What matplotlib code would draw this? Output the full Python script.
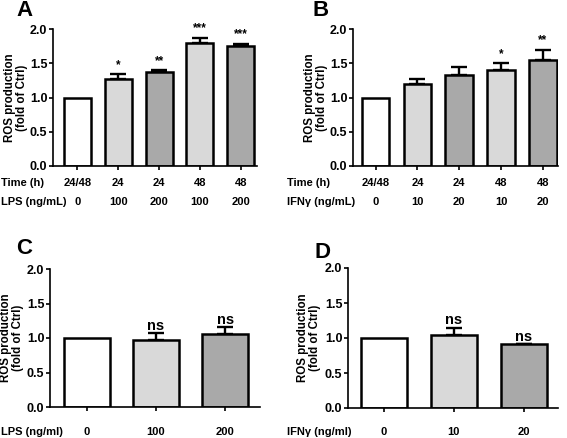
import matplotlib
matplotlib.use("Agg")
import matplotlib.pyplot as plt
import matplotlib.transforms as mtransforms

plt.rcParams['font.family'] = ['Liberation Sans', 'DejaVu Sans']
plt.rcParams['font.weight'] = 'bold'

# Panel A (LPS, time course)
a_time = ["24/48", "24", "24", "48", "48"]
a_dose = ["0", "100", "200", "100", "200"]
a_vals = [1.0, 1.27, 1.37, 1.79, 1.75]
a_err = [0.0, 0.07, 0.03, 0.08, 0.03]
a_sig = ["", "*", "**", "***", "***"]

# Panel B (IFNγ, time course)
b_time = ["24/48", "24", "24", "48", "48"]
b_dose = ["0", "10", "20", "10", "20"]
b_vals = [1.0, 1.20, 1.33, 1.40, 1.55]
b_err = [0.0, 0.07, 0.11, 0.10, 0.15]
b_sig = ["", "", "", "*", "**"]

# Panel C (LPS)
c_dose = ["0", "100", "200"]
c_vals = [1.0, 0.97, 1.06]
c_err = [0.0, 0.10, 0.10]
c_sig = ["", "ns", "ns"]

# Panel D (IFNγ)
d_dose = ["0", "10", "20"]
d_vals = [1.0, 1.04, 0.91]
d_err = [0.0, 0.11, 0.01]
d_sig = ["", "ns", "ns"]

WHITE, LIGHT, DARK = "#ffffff", "#d9d9d9", "#a9a9a9"
colors5 = [WHITE, LIGHT, DARK, LIGHT, DARK]
colors3 = [WHITE, LIGHT, DARK]

W, H = 567, 438
fig = plt.figure(figsize=(W / 100, H / 100), dpi=100)


def rect(l, t, r, b):
    return [l / W, 1 - b / H, (r - l) / W, (b - t) / H]


def draw(ax, vals, errs, sigs, colors, xlim, sigsize, sigpad, ylab_x):
    x = list(range(len(vals)))
    ax.bar(x, vals, width=0.66, color=colors, edgecolor="black", linewidth=1.8, zorder=2)
    for xi, v, e in zip(x, vals, errs):
        if e > 0:
            ax.errorbar([xi], [v], yerr=[[0], [e]], fmt="none", ecolor="black",
                        elinewidth=1.7, capsize=6, capthick=1.7, zorder=1)
    for xi, v, e, s in zip(x, vals, errs, sigs):
        if s:
            ax.text(xi, v + e + sigpad, s, ha="center", va="bottom", fontsize=sigsize,
                    fontweight="bold")
    ax.set_xlim(*xlim)
    ax.set_ylim(0, 2.0)
    ax.set_yticks([0, 0.5, 1.0, 1.5, 2.0])
    ax.set_yticklabels(["0.0", "0.5", "1.0", "1.5", "2.0"])
    ax.set_xticks(x)
    ax.set_xticklabels([])
    ax.spines["top"].set_visible(False)
    ax.spines["right"].set_visible(False)
    ax.spines["left"].set_linewidth(1.2)
    ax.spines["bottom"].set_linewidth(1.2)
    ax.tick_params(axis="y", length=3, width=1.2, labelsize=9, pad=1)
    ax.tick_params(axis="x", length=3, width=1.2)
    for lab in ax.get_yticklabels():
        lab.set_fontweight("bold")
    ax.set_ylabel("ROS production\n(fold of Ctrl)", fontsize=8.3, fontweight="bold",
                  linespacing=1.05)
    ax.yaxis.set_label_coords(ylab_x, 0.5)


def row(ax, labels, ypix, title, xpix):
    tr = mtransforms.blended_transform_factory(ax.transData, fig.transFigure)
    for i, s in enumerate(labels):
        ax.text(i, 1 - ypix / H, s, transform=tr, ha="center", va="center",
                fontsize=8, fontweight="bold")
    fig.text(xpix / W, 1 - ypix / H, title, ha="left", va="center", fontsize=8,
             fontweight="bold")


axA = fig.add_axes(rect(53, 29, 257, 166))
draw(axA, a_vals, a_err, a_sig, colors5, (-0.6, 4.4), 8.5, 0.05, (28 - 53) / 204)
row(axA, a_time, 183, "Time (h)", 1)
row(axA, a_dose, 202, "LPS (ng/mL)", 1)

axB = fig.add_axes(rect(353, 29, 558, 166))
draw(axB, b_vals, b_err, b_sig, colors5, (-0.54, 4.36), 8.5, 0.05, (328 - 353) / 205)
row(axB, b_time, 183, "Time (h)", 287)
row(axB, b_dose, 202, "IFNγ (ng/mL)", 287)

axC = fig.add_axes(rect(50, 269, 260, 407))
draw(axC, c_vals, c_err, c_sig, colors3, (-0.53, 2.5), 10.5, 0.0, (24 - 50) / 210)
row(axC, c_dose, 432, "LPS (ng/ml)", 1)

axD = fig.add_axes(rect(348, 268, 558, 408))
draw(axD, d_vals, d_err, d_sig, colors3, (-0.51, 2.49), 10.5, 0.0, (321 - 348) / 210)
row(axD, d_dose, 432, "IFNγ (ng/ml)", 287)

for letter, xp, yp in [("A", 16, 11), ("B", 312, 11), ("C", 16, 248), ("D", 314, 252)]:
    fig.text(xp / W, 1 - yp / H, letter, ha="left", va="center", fontsize=16,
             fontweight="bold")

fig.savefig("out.png", dpi=100)
